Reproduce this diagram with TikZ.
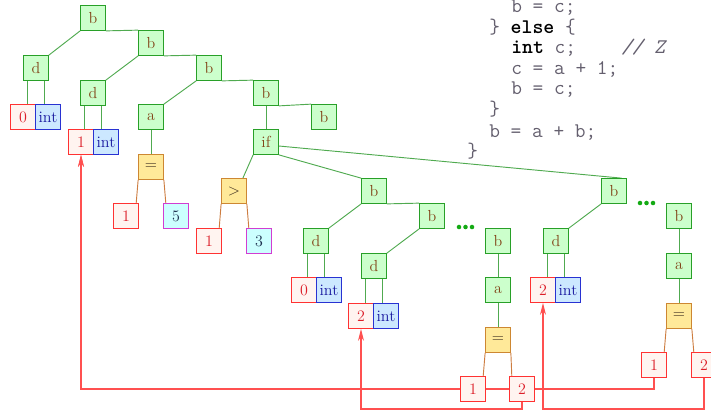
\documentclass[tikz,border=0pt]{standalone}
\usepackage{fontspec}
\usetikzlibrary{arrows.meta,backgrounds}

\definecolor{gdraw}{RGB}{40,160,40}
\definecolor{gfill}{RGB}{204,255,204}
\definecolor{gtext}{RGB}{130,70,25}
\definecolor{rdraw}{RGB}{255,50,50}
\definecolor{rfill}{RGB}{255,244,240}
\definecolor{rtext}{RGB}{220,30,40}
\definecolor{idraw}{RGB}{40,50,210}
\definecolor{ifill}{RGB}{204,232,255}
\definecolor{itext}{RGB}{25,25,160}
\definecolor{cdraw}{RGB}{210,60,210}
\definecolor{cfill}{RGB}{204,255,255}
\definecolor{ctext}{RGB}{30,50,80}
\definecolor{odraw}{RGB}{205,135,50}
\definecolor{ofill}{RGB}{255,233,153}
\definecolor{otext}{RGB}{60,45,30}
\definecolor{tedgecol}{RGB}{80,170,80}
\definecolor{oedgecol}{RGB}{205,125,65}
\definecolor{refred}{RGB}{255,80,80}
\definecolor{codegray}{RGB}{100,95,110}
\definecolor{dotgreen}{RGB}{20,170,20}

\tikzset{
  box/.style={draw, line width=0.8pt, minimum width=18.5pt, minimum height=18.5pt,
    inner sep=0pt, font=\fontsize{12}{14}\selectfont},
  gbox/.style={box, draw=gdraw, fill=gfill, text=gtext},
  rbox/.style={box, draw=rdraw, fill=rfill, text=rtext},
  ibox/.style={box, draw=idraw, fill=ifill, text=itext},
  cbox/.style={box, draw=cdraw, fill=cfill, text=ctext},
  obox/.style={box, draw=odraw, fill=ofill, text=otext},
  tedge/.style={draw=tedgecol, line width=0.7pt},
  oedge/.style={draw=oedgecol, line width=0.7pt},
  ref/.style={draw=refred, line width=0.8pt},
  refarrow/.style={ref, -{Stealth[length=9pt,width=4.5pt]}},
  code/.style={anchor=base west, inner sep=0pt, text=codegray,
    font=\ttfamily\fontsize{15.6}{17}\selectfont},
  gdot/.style={fill=dotgreen}
}
\newcommand{\kw}[1]{{\color{black}\bfseries #1}}

\begin{document}
\begin{tikzpicture}[x=0.75pt,y=-0.75pt]
\useasboundingbox (0,0) rectangle (711,412);

% ---- source fragment ----
\node[code] (l1) at (511,12)  {b = c;};
\node[code] (l2) at (489,33)  {\} \kw{else} \{};
\node[code] (l3) at (511,53)  {\kw{int} c;};
\node[code] (l3c) at (621,53) {\itshape // Z};
\node[code] (l4) at (511,74)  {c = a + 1;};
\node[code] (l5) at (511,94)  {b = c;};
\node[code] (l6) at (489,115) {\}};
\node[code] (l7) at (489,137) {b = a + b;};
\node[code] (l8) at (467,157) {\}};

% ---- syntax tree: upper part ----
\node[gbox] (b1) at (93,18)  {b};
\node[gbox] (b2) at (151,43) {b};
\node[gbox] (d1) at (36,68)  {d};
\node[rbox] (z1) at (23,117) {0};
\node[ibox] (i1) at (48,117) {int};
\node[gbox] (b3) at (209,68) {b};
\node[gbox] (d2) at (93,93)  {d};
\node[rbox] (o1) at (81,142) {1};
\node[ibox] (i2) at (106,142) {int};
\node[gbox] (a1) at (151,117) {a};
\node[gbox] (b4) at (266,93) {b};
\node[gbox] (b5) at (324,117) {b};
\node[gbox] (if) at (266,142) {if};
\node[obox] (eq1) at (151,167) {$=$};
\node[rbox] (c11) at (126,216) {1};
\node[cbox] (c5) at (176,216) {5};
\node[obox] (gt) at (234,191) {$>$};
\node[rbox] (c1b) at (209,241) {1};
\node[cbox] (c3) at (259,241) {3};

% ---- then-branch ----
\node[gbox] (b6) at (374,191) {b};
\node[gbox] (b7) at (432,216) {b};
\node[gbox] (d3) at (316,241) {d};
\node[rbox] (z2) at (304,290) {0};
\node[ibox] (i3) at (329,290) {int};
\node[gbox] (d4) at (374,266) {d};
\node[rbox] (t1) at (361,316) {2};
\node[ibox] (i4) at (386,316) {int};
\node[gbox] (b8) at (498,241) {b};
\node[gbox] (a2) at (498,290) {a};
\node[obox] (eq2) at (498,340) {$=$};
\node[rbox] (r1) at (473,389) {1};
\node[rbox] (r2) at (522,389) {2};

% ---- else-branch ----
\node[gbox] (b9) at (614,191) {b};
\node[gbox] (d5) at (556,241) {d};
\node[rbox] (t2) at (543,290) {2};
\node[ibox] (i5) at (568,290) {int};
\node[gbox] (b10) at (679,216) {b};
\node[gbox] (a3) at (679,266) {a};
\node[obox] (eq3) at (679,316) {$=$};
\node[rbox] (r3) at (654,365) {1};
\node[rbox] (r4) at (704,365) {2};

% elided statements
\fill[gdot] (459,227) circle (1.7pt) (465.5,227) circle (1.7pt) (472,227) circle (1.7pt);
\fill[gdot] (640,203) circle (1.7pt) (646.5,203) circle (1.7pt) (653,203) circle (1.7pt);

\coordinate (low) at (0,409);

\begin{pgfonlayer}{background}
  % tree edges
  \draw[tedge] (b1.south west) -- (d1.north east);
  \draw[tedge] (b1.south east) -- (b2.north west);
  \draw[tedge] (b2.south west) -- (d2.north east);
  \draw[tedge] (b2.south east) -- (b3.north west);
  \draw[tedge] (b3.south west) -- (a1.north east);
  \draw[tedge] (b3.south east) -- (b4.north west);
  \draw[tedge] (b4.south) -- (if.north);
  \draw[tedge] (b4.south east) -- (b5.north west);
  \draw[tedge] (a1.south) -- (eq1.north);
  \draw[tedge] (if.south west) -- ([xshift=-3pt]gt.north east);
  \draw[tedge] (if.south east) -- (b6.north west);
  \draw[tedge] ([yshift=-3pt]if.east) -- ([xshift=-4pt]b9.north east);
  \draw[tedge] (b6.south west) -- (d3.north east);
  \draw[tedge] (b6.south east) -- (b7.north west);
  \draw[tedge] (b7.south west) -- (d4.north east);
  \draw[tedge] (b8.south) -- (a2.north);
  \draw[tedge] (a2.south) -- (eq2.north);
  \draw[tedge] (b9.south west) -- (d5.north east);
  \draw[tedge] (b10.south) -- (a3.north);
  \draw[tedge] (a3.south) -- (eq3.north);
  % declarations
  \foreach \d/\v/\t in {d1/z1/i1, d2/o1/i2, d3/z2/i3, d4/t1/i4, d5/t2/i5} {
    \draw[tedge] ([xshift=-6.4pt]\d.south) -- ([xshift=-6.4pt]\d.south |- \v.north);
    \draw[tedge] ([xshift=6.4pt]\d.south) -- ([xshift=6.4pt]\d.south |- \t.north);
  }
  % operator operands
  \draw[oedge] (eq1.south west) -- ([xshift=-2pt]c11.north east);
  \draw[oedge] (eq1.south east) -- ([xshift=2pt]c5.north west);
  \draw[oedge] (gt.south west) -- ([xshift=-2pt]c1b.north east);
  \draw[oedge] (gt.south east) -- ([xshift=2pt]c3.north west);
  \draw[oedge] (eq2.south west) -- ([xshift=-2pt]r1.north east);
  \draw[oedge] (eq2.south east) -- ([xshift=2pt]r2.north west);
  \draw[oedge] (eq3.south west) -- ([xshift=-2pt]r3.north east);
  \draw[oedge] (eq3.south east) -- ([xshift=2pt]r4.north west);
  % references to declarations
  \draw[refarrow] (r1.west) -| (o1.south);
  \draw[refarrow] (r3.south) -- (r3.south |- r1.center) -| (o1.south);
  \draw[refarrow] (r2.south) -- (r2.south |- low) -| (t1.south);
  \draw[refarrow] (r4.south) -- (r4.south |- low) -| (t2.south);
\end{pgfonlayer}
\end{tikzpicture}
\end{document}
